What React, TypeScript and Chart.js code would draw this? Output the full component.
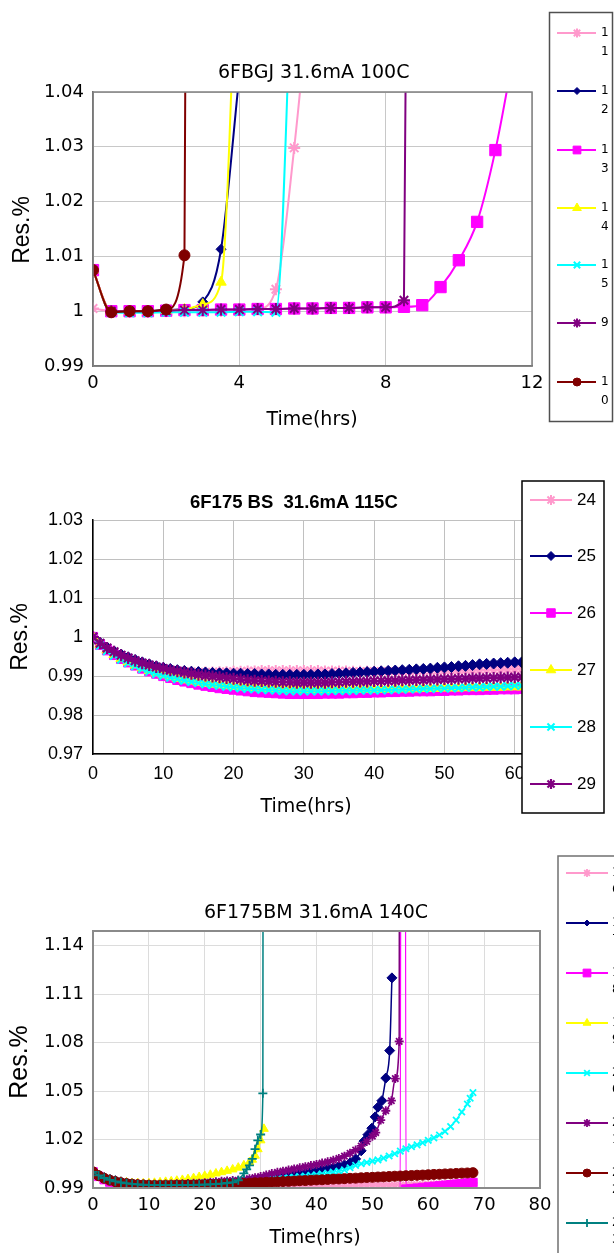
import React, { useEffect, useRef } from 'react';
import { Chart, registerables } from 'chart.js';
import { drawPoint } from 'chart.js/helpers';

Chart.register(...registerables);

// ================= Chart 1 : 6FBGJ 31.6mA 100C =================
const C1_TITLE = '6FBGJ 31.6mA 100C';
const C1_X_TICKS = [0, 4, 8, 12];
const C1_X_LABELS = ['0', '4', '8', '12'];
const C1_Y_TICKS = [0.99, 1, 1.01, 1.02, 1.03, 1.04];
const C1_Y_LABELS = ['0.99', '1', '1.01', '1.02', '1.03', '1.04'];
const C1_NAMES = ['11', '12', '13', '14', '15', '9', '10'];

const C1_S11_X = [0, 0.5, 1, 1.5, 2, 2.5, 3, 3.5, 4, 4.5, 5, 5.5, 6];
const C1_S11_Y = [1.0005, 1.0, 0.9999, 0.9999, 1.0, 1.0, 1.0001, 1.0001, 1.0002, 1.0004, 1.004, 1.0298, 1.064];
const C1_S12_X = [0, 0.5, 1, 1.5, 2, 2.5, 3, 3.5, 4];
const C1_S12_Y = [1.0075, 0.9998, 1.0, 1.0, 1.0002, 1.0004, 1.0017, 1.0113, 1.043];
const C1_S13_X = [0, 0.5, 1, 1.5, 2, 2.5, 3, 3.5, 4, 4.5, 5, 5.5, 6, 6.5, 7, 7.5, 8, 8.5, 9, 9.5, 10, 10.5, 11, 11.5];
const C1_S13_Y = [1.0075, 1.0, 1.0, 1.0, 1.0001, 1.0002, 1.0002, 1.0003, 1.0003, 1.0004, 1.0004, 1.0005, 1.0005, 1.0006, 1.0006, 1.0007, 1.0007, 1.0008, 1.0011, 1.0044, 1.0093, 1.0163, 1.0294, 1.047];
const C1_S14_X = [0, 0.5, 1, 1.5, 2, 2.5, 3, 3.5, 4];
const C1_S14_Y = [1.0075, 0.9999, 1.0, 1.0, 1.0001, 1.0003, 1.0012, 1.0053, 1.08];
const C1_S15_X = [0.5, 1, 1.5, 2, 2.5, 3, 3.5, 4, 4.5, 5, 5.5];
const C1_S15_Y = [0.9998, 0.9997, 0.9997, 0.9998, 0.9998, 0.9998, 0.9998, 0.9999, 0.9999, 0.9998, 1.075];
const C1_S9_X = [0.5, 1, 1.5, 2, 2.5, 3, 3.5, 4, 4.5, 5, 5.5, 6, 6.5, 7, 7.5, 8, 8.5, 9];
const C1_S9_Y = [1.0, 1.0, 1.0, 1.0001, 1.0002, 1.0002, 1.0003, 1.0003, 1.0004, 1.0004, 1.0005, 1.0005, 1.0006, 1.0006, 1.0007, 1.0007, 1.002, 1.5];
const C1_S10_X = [0, 0.5, 1, 1.5, 2, 2.5, 3];
const C1_S10_Y = [1.0075, 0.9998, 1.0, 1.0, 1.0003, 1.0102, 1.8];

// ================= Chart 2 : 6F175 BS 31.6mA 115C =================
const C2_TITLE = '6F175 BS  31.6mA 115C';
const C2_X_TICKS = [0, 10, 20, 30, 40, 50, 60, 70];
const C2_X_LABELS = ['0', '10', '20', '30', '40', '50', '60', '70'];
const C2_Y_TICKS = [0.97, 0.98, 0.99, 1, 1.01, 1.02, 1.03];
const C2_Y_LABELS = ['0.97', '0.98', '0.99', '1', '1.01', '1.02', '1.03'];
const C2_NAMES = ['24', '25', '26', '27', '28', '29'];
const C2_HOURS = [0, 1, 2, 3, 4, 5, 6, 7, 8, 9, 10, 11, 12, 13, 14, 15, 16, 17, 18, 19, 20, 21, 22, 23, 24, 25, 26, 27, 28, 29, 30, 31, 32, 33, 34, 35, 36, 37, 38, 39, 40, 41, 42, 43, 44, 45, 46, 47, 48, 49, 50, 51, 52, 53, 54, 55, 56, 57, 58, 59, 60, 61, 62];
const C2_S24_Y = [1.0000, 0.9983, 0.9970, 0.9960, 0.9951, 0.9944, 0.9938, 0.9932, 0.9927, 0.9923,
  0.9919, 0.9916, 0.9914, 0.9912, 0.9911, 0.9910, 0.9910, 0.9910, 0.9911, 0.9911,
  0.9912, 0.9912, 0.9913, 0.9913, 0.9914, 0.9914, 0.9914, 0.9914, 0.9914, 0.9914,
  0.9914, 0.9914, 0.9914, 0.9913, 0.9913, 0.9913, 0.9913, 0.9912, 0.9912, 0.9912,
  0.9912, 0.9912, 0.9912, 0.9912, 0.9912, 0.9912, 0.9913, 0.9913, 0.9913, 0.9913,
  0.9914, 0.9914, 0.9914, 0.9915, 0.9915, 0.9915, 0.9916, 0.9916, 0.9916, 0.9917,
  0.9917, 0.9917, 0.9918];
const C2_S25_Y = [1.0000, 0.9985, 0.9973, 0.9963, 0.9955, 0.9948, 0.9941, 0.9935, 0.9930, 0.9925,
  0.9921, 0.9918, 0.9915, 0.9913, 0.9911, 0.9910, 0.9909, 0.9908, 0.9907, 0.9907,
  0.9906, 0.9906, 0.9905, 0.9905, 0.9904, 0.9904, 0.9903, 0.9903, 0.9903, 0.9903,
  0.9903, 0.9903, 0.9904, 0.9904, 0.9905, 0.9906, 0.9907, 0.9908, 0.9909, 0.9910,
  0.9911, 0.9912, 0.9913, 0.9914, 0.9915, 0.9916, 0.9917, 0.9918, 0.9919, 0.9921,
  0.9922, 0.9923, 0.9925, 0.9926, 0.9928, 0.9930, 0.9931, 0.9932, 0.9933, 0.9934,
  0.9935, 0.9935, 0.9936];
const C2_S26_Y = [1.0000, 0.9980, 0.9966, 0.9954, 0.9944, 0.9935, 0.9927, 0.9919, 0.9912, 0.9906,
  0.9900, 0.9895, 0.9890, 0.9886, 0.9882, 0.9878, 0.9875, 0.9872, 0.9869, 0.9867,
  0.9865, 0.9863, 0.9861, 0.9859, 0.9858, 0.9857, 0.9856, 0.9855, 0.9854, 0.9854,
  0.9854, 0.9854, 0.9854, 0.9855, 0.9855, 0.9855, 0.9856, 0.9856, 0.9857, 0.9857,
  0.9858, 0.9858, 0.9859, 0.9859, 0.9860, 0.9860, 0.9861, 0.9861, 0.9861, 0.9862,
  0.9862, 0.9863, 0.9863, 0.9864, 0.9864, 0.9864, 0.9865, 0.9865, 0.9866, 0.9866,
  0.9866, 0.9867, 0.9867];
const C2_S27_Y = [1.0000, 0.9981, 0.9967, 0.9955, 0.9945, 0.9936, 0.9928, 0.9921, 0.9914, 0.9908,
  0.9903, 0.9898, 0.9894, 0.9890, 0.9887, 0.9884, 0.9881, 0.9879, 0.9877, 0.9875,
  0.9873, 0.9872, 0.9871, 0.9870, 0.9869, 0.9868, 0.9868, 0.9867, 0.9867, 0.9867,
  0.9866, 0.9866, 0.9866, 0.9866, 0.9866, 0.9866, 0.9866, 0.9866, 0.9866, 0.9866,
  0.9866, 0.9866, 0.9866, 0.9867, 0.9867, 0.9867, 0.9867, 0.9868, 0.9868, 0.9868,
  0.9869, 0.9869, 0.9869, 0.9870, 0.9870, 0.9870, 0.9871, 0.9871, 0.9871, 0.9872,
  0.9872, 0.9872, 0.9873];
const C2_S28_Y = [1.0000, 0.9978, 0.9964, 0.9952, 0.9942, 0.9933, 0.9925, 0.9918, 0.9911, 0.9905,
  0.9900, 0.9896, 0.9892, 0.9888, 0.9885, 0.9882, 0.9879, 0.9877, 0.9875, 0.9873,
  0.9871, 0.9869, 0.9867, 0.9866, 0.9865, 0.9864, 0.9863, 0.9862, 0.9861, 0.9861,
  0.9861, 0.9861, 0.9861, 0.9861, 0.9862, 0.9862, 0.9862, 0.9862, 0.9863, 0.9863,
  0.9863, 0.9864, 0.9864, 0.9865, 0.9865, 0.9866, 0.9866, 0.9867, 0.9867, 0.9868,
  0.9868, 0.9869, 0.9869, 0.9870, 0.9871, 0.9871, 0.9872, 0.9873, 0.9873, 0.9874,
  0.9875, 0.9875, 0.9876];
const C2_S29_Y = [1.0000, 0.9984, 0.9972, 0.9962, 0.9953, 0.9946, 0.9939, 0.9933, 0.9928, 0.9923,
  0.9919, 0.9915, 0.9912, 0.9909, 0.9906, 0.9903, 0.9901, 0.9899, 0.9897, 0.9895,
  0.9893, 0.9891, 0.9889, 0.9888, 0.9887, 0.9886, 0.9885, 0.9884, 0.9884, 0.9883,
  0.9883, 0.9883, 0.9883, 0.9883, 0.9884, 0.9884, 0.9885, 0.9885, 0.9886, 0.9886,
  0.9887, 0.9887, 0.9888, 0.9888, 0.9889, 0.9889, 0.9890, 0.9890, 0.9891, 0.9891,
  0.9892, 0.9892, 0.9893, 0.9893, 0.9894, 0.9894, 0.9895, 0.9895, 0.9896, 0.9896,
  0.9897, 0.9897, 0.9898];

// ================= Chart 3 : 6F175BM 31.6mA 140C =================
const C3_TITLE = '6F175BM 31.6mA 140C';
const C3_X_TICKS = [0, 10, 20, 30, 40, 50, 60, 70, 80];
const C3_X_LABELS = ['0', '10', '20', '30', '40', '50', '60', '70', '80'];
const C3_Y_TICKS = [0.99, 1.02, 1.05, 1.08, 1.11, 1.14];
const C3_Y_LABELS = ['0.99', '1.02', '1.05', '1.08', '1.11', '1.14'];
const C3_NAMES = ['16', '17', '18', '19', '20', '21', '22', '23'];
const C3_HOURS = [0, 1, 2, 3, 4, 5, 6, 7, 8, 9, 10, 11, 12, 13, 14, 15, 16, 17, 18, 19, 20, 21, 22, 23, 24, 25, 26, 27, 28, 29, 30, 31, 32, 33, 34, 35, 36, 37, 38, 39, 40, 41, 42, 43, 44, 45, 46, 47, 48, 49, 50, 51, 52, 53, 54, 55, 56, 57, 58, 59, 60, 61, 62, 63, 64, 65, 66, 67, 68];

const C3_PINK_X = C3_HOURS;
const C3_PINK_Y = [1.0000, 0.9978, 0.9963, 0.9952, 0.9943, 0.9936, 0.9930, 0.9926, 0.9922, 0.9919,
  0.9917, 0.9916, 0.9915, 0.9914, 0.9914, 0.9913, 0.9913, 0.9912, 0.9912, 0.9912,
  0.9912, 0.9912, 0.9912, 0.9912, 0.9912, 0.9912, 0.9912, 0.9912, 0.9912, 0.9912,
  0.9912, 0.9912, 0.9913, 0.9913, 0.9913, 0.9913, 0.9913, 0.9913, 0.9913, 0.9914,
  0.9914, 0.9914, 0.9914, 0.9914, 0.9915, 0.9915, 0.9915, 0.9915, 0.9916, 0.9916,
  0.9916, 0.9917, 0.9917, 0.9917, 0.9918, 0.9918, 0.9919, 0.9920, 0.9921, 0.9922,
  0.9923, 0.9924, 0.9925, 0.9926, 0.9927, 0.9928, 0.9929, 0.9930, 0.9931];

const C3_NAVY_X = [...C3_HOURS.slice(0, 48), 48, 48.5, 49.2, 49.9, 50.5, 51, 51.7, 52.4, 53.1, 53.5];
const C3_NAVY_Y = [1.0000, 0.9980, 0.9966, 0.9955, 0.9946, 0.9939, 0.9934, 0.9930, 0.9927, 0.9925,
  0.9923, 0.9922, 0.9921, 0.9921, 0.9921, 0.9921, 0.9922, 0.9922, 0.9923, 0.9924,
  0.9925, 0.9927, 0.9928, 0.9930, 0.9932, 0.9935, 0.9938, 0.9941, 0.9944, 0.9947,
  0.9951, 0.9955, 0.9960, 0.9965, 0.9970, 0.9975, 0.9980, 0.9986, 0.9992, 0.9998,
  1.0005, 1.0012, 1.0019, 1.0026, 1.0034, 1.0043, 1.0055, 1.0080,
  1.0130, 1.0190, 1.0230, 1.0270, 1.0340, 1.0400, 1.0440, 1.0580, 1.0750, 1.1200];

const C3_MAG_X = [...C3_HOURS.slice(0, 56), 55.5, ...C3_HOURS.slice(56)];
const C3_MAG_Y = [1.0000, 0.9972, 0.9952, 0.9937, 0.9925, 0.9915, 0.9907, 0.9901, 0.9896, 0.9893,
  0.9891, 0.9890, 0.9890, 0.9890, 0.9890, 0.9889, 0.9889, 0.9888, 0.9888, 0.9887,
  0.9886, 0.9885, 0.9884, 0.9883, 0.9882, 0.9881, 0.9880, 0.9879, 0.9878, 0.9877,
  0.9876, 0.9875, 0.9875, 0.9874, 0.9874, 0.9874, 0.9874, 0.9873, 0.9873, 0.9873,
  0.9873, 0.9873, 0.9873, 0.9873, 0.9874, 0.9874, 0.9874, 0.9874, 0.9875, 0.9875,
  0.9875, 0.9876, 0.9876, 0.9876, 0.9877, 0.9877,
  3.0,
  0.9893, 0.9896, 0.9899, 0.9903, 0.9906, 0.9910, 0.9913, 0.9917, 0.9920, 0.9924, 0.9927, 0.9931, 0.9934];

const C3_YEL_X = [...C3_HOURS.slice(0, 29), 28.5, 29, 29.5, 30, 30.6];
const C3_YEL_Y = [1.0000, 0.9978, 0.9963, 0.9952, 0.9944, 0.9938, 0.9934, 0.9931, 0.9930, 0.9929,
  0.9930, 0.9932, 0.9935, 0.9938, 0.9941, 0.9945, 0.9950, 0.9955, 0.9961, 0.9968,
  0.9975, 0.9982, 0.9990, 0.9998, 1.0006, 1.0015, 1.0026, 1.0040, 1.0060,
  1.0075, 1.0100, 1.0140, 1.0195, 1.0266];

const C3_CYAN_X = [...C3_HOURS.slice(0, 68), 67.5, 68];
const C3_CYAN_Y = [1.0000, 0.9979, 0.9964, 0.9953, 0.9944, 0.9937, 0.9932, 0.9928, 0.9925, 0.9924,
  0.9923, 0.9923, 0.9923, 0.9924, 0.9925, 0.9926, 0.9927, 0.9928, 0.9930, 0.9931,
  0.9933, 0.9935, 0.9937, 0.9939, 0.9941, 0.9943, 0.9945, 0.9947, 0.9949, 0.9951,
  0.9953, 0.9955, 0.9957, 0.9960, 0.9962, 0.9965, 0.9968, 0.9971, 0.9974, 0.9978,
  0.9982, 0.9987, 0.9992, 0.9998, 1.0004, 1.0012, 1.0025, 1.0040, 1.0050, 1.0058,
  1.0066, 1.0074, 1.0085, 1.0098, 1.0112, 1.0128, 1.0143, 1.0155, 1.0167, 1.0180,
  1.0195, 1.0210, 1.0228, 1.0250, 1.0280, 1.0320, 1.0370, 1.0420,
  1.0455, 1.0490];

const C3_PURP_X = [...C3_HOURS.slice(0, 51), 50.6, 51.5, 52.4, 53.4, 54.1, 54.8, 55.3];
const C3_PURP_Y = [1.0000, 0.9980, 0.9965, 0.9954, 0.9945, 0.9938, 0.9933, 0.9929, 0.9926, 0.9924,
  0.9923, 0.9923, 0.9923, 0.9924, 0.9925, 0.9926, 0.9927, 0.9928, 0.9929, 0.9930,
  0.9932, 0.9935, 0.9938, 0.9941, 0.9944, 0.9946, 0.9948, 0.9952, 0.9958, 0.9964,
  0.9971, 0.9980, 0.9990, 0.9997, 1.0004, 1.0011, 1.0018, 1.0025, 1.0032, 1.0039,
  1.0046, 1.0054, 1.0062, 1.0072, 1.0083, 1.0097, 1.0115, 1.0135, 1.0160, 1.0188,
  1.0220,
  1.0243, 1.0320, 1.0378, 1.0440, 1.0577, 1.0807, 3.0];

const C3_DRED_X = C3_HOURS;
const C3_DRED_Y = [1.0000, 0.9976, 0.9960, 0.9948, 0.9939, 0.9932, 0.9927, 0.9923, 0.9920, 0.9918,
  0.9917, 0.9916, 0.9916, 0.9916, 0.9916, 0.9917, 0.9917, 0.9918, 0.9918, 0.9919,
  0.9920, 0.9921, 0.9922, 0.9923, 0.9924, 0.9925, 0.9927, 0.9928, 0.9930, 0.9932,
  0.9933, 0.9935, 0.9936, 0.9938, 0.9940, 0.9941, 0.9943, 0.9945, 0.9946, 0.9948,
  0.9950, 0.9951, 0.9953, 0.9955, 0.9956, 0.9958, 0.9960, 0.9961, 0.9963, 0.9965,
  0.9966, 0.9968, 0.9969, 0.9971, 0.9973, 0.9974, 0.9976, 0.9977, 0.9979, 0.9980,
  0.9982, 0.9984, 0.9985, 0.9987, 0.9988, 0.9990, 0.9992, 0.9993, 0.9995];

const C3_TEAL_X = [...C3_HOURS.slice(0, 28), 27.5, 28, 28.5, 29, 29.5, 30, 30.4, 30.8];
const C3_TEAL_Y = [1.0000, 0.9978, 0.9962, 0.9950, 0.9941, 0.9934, 0.9929, 0.9925, 0.9922, 0.9920,
  0.9919, 0.9918, 0.9918, 0.9918, 0.9918, 0.9918, 0.9918, 0.9919, 0.9919, 0.9920,
  0.9921, 0.9922, 0.9924, 0.9927, 0.9931, 0.9935, 0.9948, 0.9990,
  1.0015, 1.0040, 1.0080, 1.0140, 1.0195, 1.0231, 1.0486, 3.0];

// ================= styles =================
const PINK = '#FF99CC', NAVY = '#000080', MAGENTA = '#FF00FF', YELLOW = '#FFFF00',
  CYAN = '#00FFFF', PURPLE = '#800080', DRED = '#800000', TEAL = '#008080';

const DJ = '"DejaVu Sans", sans-serif';
const LS = '"Liberation Sans", Arial, sans-serif';

function decor(spec: any) {
  return {
    id: 'decor',
    afterDraw(chart: any) {
      const ctx = chart.ctx;
      ctx.save();
      if (spec.frame) {
        const a = chart.chartArea;
        ctx.strokeStyle = spec.frame.color;
        ctx.lineWidth = spec.frame.width;
        ctx.strokeRect(a.left, a.top, a.right - a.left, a.bottom - a.top);
      }
      for (const t of spec.texts) {
        ctx.save();
        ctx.font = t.font;
        ctx.fillStyle = '#000';
        ctx.textBaseline = 'middle';
        ctx.textAlign = t.align || 'center';
        ctx.translate(t.x, t.y);
        if (t.rot) ctx.rotate(-Math.PI / 2);
        ctx.fillText(t.text, 0, 0);
        ctx.restore();
      }
      const L = spec.legend;
      if (L) {
        const [bx, by, bw, bh] = L.box;
        ctx.fillStyle = '#fff';
        ctx.fillRect(bx, by, bw, bh);
        ctx.strokeStyle = L.border;
        ctx.lineWidth = 1.5;
        ctx.strokeRect(bx, by, bw, bh);
        spec.series.forEach((se: any, i: number) => {
          const y = L.ys[i];
          ctx.strokeStyle = se.sty.color;
          ctx.lineWidth = L.lineWidth;
          ctx.beginPath();
          ctx.moveTo(L.x1, y);
          ctx.lineTo(L.x2, y);
          ctx.stroke();
          ctx.fillStyle = se.sty.color;
          ctx.strokeStyle = se.sty.color;
          ctx.lineWidth = se.sty.bw;
          drawPoint(ctx, { pointStyle: se.sty.style, radius: se.sty.lr, rotation: 0, borderWidth: se.sty.bw } as any, L.mx, y);
          ctx.fillStyle = '#000';
          ctx.font = L.font;
          ctx.textBaseline = 'middle';
          ctx.textAlign = 'left';
          const lines = L.split ? se.label.split('') : [se.label];
          lines.forEach((s: string, k: number) => ctx.fillText(s, L.lx, y + k * L.lineGap));
        });
      }
      ctx.restore();
    },
  };
}

function buildConfig(s: any) {
  const n = s.series.length;
  return {
    type: 'line',
    data: {
      datasets: s.series.map((se: any, i: number) => ({
        label: se.label,
        data: se.xs.map((x: number, k: number) => ({ x, y: se.ys[k] })),
        borderColor: se.sty.color,
        backgroundColor: se.sty.color,
        pointBackgroundColor: se.sty.color,
        pointBorderColor: se.sty.color,
        pointStyle: se.sty.style,
        pointRadius: se.sty.r,
        pointBorderWidth: se.sty.bw,
        borderWidth: s.lineWidth,
        cubicInterpolationMode: s.smooth ? 'monotone' : 'default',
        tension: 0,
        order: n - i,
        fill: false,
      })),
    },
    options: {
      responsive: false,
      animation: false,
      events: [],
      layout: { padding: { left: 0, top: s.area.top, right: s.width - s.area.right, bottom: 0 } },
      elements: { line: { capBezierPoints: false } },
      plugins: { legend: { display: false }, title: { display: false }, tooltip: { enabled: false } },
      scales: {
        x: {
          type: 'linear',
          min: s.x.min,
          max: s.x.max,
          afterBuildTicks: (sc: any) => { sc.ticks = s.x.ticks.map((v: number) => ({ value: v })); },
          afterFit: (sc: any) => { sc.height = s.height - s.area.bottom; },
          ticks: {
            callback: (_v: any, i: number) => s.x.labels[i],
            font: s.x.font,
            color: '#000',
            padding: s.x.padding,
            maxRotation: 0,
            autoSkip: false,
          },
          grid: { color: s.grid, lineWidth: 1, drawTicks: false },
          border: { color: s.axis.color, width: s.axis.width },
        },
        y: {
          type: 'linear',
          min: s.y.min,
          max: s.y.max,
          afterBuildTicks: (sc: any) => { sc.ticks = s.y.ticks.map((v: number) => ({ value: v })); },
          afterFit: (sc: any) => { sc.width = s.area.left; },
          ticks: {
            callback: (_v: any, i: number) => s.y.labels[i],
            font: s.y.font,
            color: '#000',
            padding: s.y.padding,
            autoSkip: false,
          },
          grid: { color: s.grid, lineWidth: 1, drawTicks: false },
          border: { color: s.axis.color, width: s.axis.width },
        },
      },
    },
    plugins: [decor(s)],
  };
}

const SPEC1 = {
  width: 614, height: 440, top: 0,
  area: { left: 93, top: 92, right: 532, bottom: 366 },
  x: { min: 0, max: 12, ticks: C1_X_TICKS, labels: C1_X_LABELS, font: { family: 'DejaVu Sans', size: 18 }, padding: 7 },
  y: { min: 0.99, max: 1.04, ticks: C1_Y_TICKS, labels: C1_Y_LABELS, font: { family: 'DejaVu Sans', size: 18 }, padding: 9 },
  smooth: true, lineWidth: 2,
  grid: '#c8c8c8', axis: { color: '#606060', width: 1.5 }, frame: { color: '#808080', width: 1.5 },
  series: [
    { label: C1_NAMES[0], xs: C1_S11_X, ys: C1_S11_Y, sty: { color: PINK, style: 'star', r: 6, lr: 4.5, bw: 2 } },
    { label: C1_NAMES[1], xs: C1_S12_X, ys: C1_S12_Y, sty: { color: NAVY, style: 'rectRot', r: 5, lr: 3.5, bw: 1 } },
    { label: C1_NAMES[2], xs: C1_S13_X, ys: C1_S13_Y, sty: { color: MAGENTA, style: 'rect', r: 8, lr: 5.5, bw: 1 } },
    { label: C1_NAMES[3], xs: C1_S14_X, ys: C1_S14_Y, sty: { color: YELLOW, style: 'triangle', r: 6, lr: 5, bw: 1 } },
    { label: C1_NAMES[4], xs: C1_S15_X, ys: C1_S15_Y, sty: { color: CYAN, style: 'crossRot', r: 6, lr: 4.5, bw: 2 } },
    { label: C1_NAMES[5], xs: C1_S9_X, ys: C1_S9_Y, sty: { color: PURPLE, style: 'star', r: 6, lr: 4.5, bw: 2 } },
    { label: C1_NAMES[6], xs: C1_S10_X, ys: C1_S10_Y, sty: { color: DRED, style: 'circle', r: 5.5, lr: 4, bw: 1 } },
  ],
  texts: [
    { text: C1_TITLE, x: 218, y: 73, font: `19px ${DJ}`, align: 'left' },
    { text: 'Time(hrs)', x: 312, y: 420, font: `19px ${DJ}` },
    { text: 'Res.%', x: 23, y: 230, font: `23px ${LS}`, rot: true },
  ],
  legend: {
    box: [549.5, 12.5, 63, 409], border: '#505050', lineWidth: 2,
    x1: 557, x2: 596, mx: 577, lx: 601, font: `12px ${DJ}`, split: true, lineGap: 19,
    ys: [33, 91, 150, 208, 265, 323, 382],
  },
};

const SPEC2 = {
  width: 614, height: 380, top: 440,
  area: { left: 93, top: 80, right: 585, bottom: 314 },
  x: { min: 0, max: 70, ticks: C2_X_TICKS, labels: C2_X_LABELS, font: { family: 'Liberation Sans', size: 18 }, padding: 9 },
  y: { min: 0.97, max: 1.03, ticks: C2_Y_TICKS, labels: C2_Y_LABELS, font: { family: 'Liberation Sans', size: 18 }, padding: 10 },
  smooth: false, lineWidth: 2,
  grid: '#c0c0c0', axis: { color: '#000000', width: 1.5 }, frame: null,
  series: [
    { label: C2_NAMES[0], xs: C2_HOURS, ys: C2_S24_Y, sty: { color: PINK, style: 'star', r: 5.5, lr: 5, bw: 2 } },
    { label: C2_NAMES[1], xs: C2_HOURS, ys: C2_S25_Y, sty: { color: NAVY, style: 'rectRot', r: 5.5, lr: 4.5, bw: 1 } },
    { label: C2_NAMES[2], xs: C2_HOURS, ys: C2_S26_Y, sty: { color: MAGENTA, style: 'rect', r: 6.5, lr: 6, bw: 1 } },
    { label: C2_NAMES[3], xs: C2_HOURS, ys: C2_S27_Y, sty: { color: YELLOW, style: 'triangle', r: 6, lr: 5.5, bw: 1 } },
    { label: C2_NAMES[4], xs: C2_HOURS, ys: C2_S28_Y, sty: { color: CYAN, style: 'crossRot', r: 5.5, lr: 5, bw: 2 } },
    { label: C2_NAMES[5], xs: C2_HOURS, ys: C2_S29_Y, sty: { color: PURPLE, style: 'star', r: 6, lr: 5, bw: 2.2 } },
  ],
  texts: [
    { text: C2_TITLE, x: 190, y: 63, font: `bold 18.5px ${LS}`, align: 'left' },
    { text: 'Time(hrs)', x: 306, y: 367, font: `19px ${DJ}` },
    { text: 'Res.%', x: 21, y: 197, font: `23px ${LS}`, rot: true },
  ],
  legend: {
    box: [522, 41, 82, 332], border: '#000000', lineWidth: 2,
    x1: 530, x2: 572, mx: 551, lx: 577, font: `17px ${LS}`, split: false, lineGap: 0,
    ys: [60, 116, 173, 230, 287, 344],
  },
};

const SPEC3 = {
  width: 614, height: 433, top: 820,
  area: { left: 93, top: 111, right: 540, bottom: 368 },
  x: { min: 0, max: 80, ticks: C3_X_TICKS, labels: C3_X_LABELS, font: { family: 'DejaVu Sans', size: 18 }, padding: 7 },
  y: { min: 0.99, max: 1.149, ticks: C3_Y_TICKS, labels: C3_Y_LABELS, font: { family: 'DejaVu Sans', size: 18 }, padding: 9 },
  smooth: true, lineWidth: 1.5,
  grid: '#dcdcdc', axis: { color: '#8a8a8a', width: 2 }, frame: { color: '#8a8a8a', width: 2 },
  series: [
    { label: C3_NAMES[0], xs: C3_PINK_X, ys: C3_PINK_Y, sty: { color: PINK, style: 'star', r: 4.5, lr: 4, bw: 1.8 } },
    { label: C3_NAMES[1], xs: C3_NAVY_X, ys: C3_NAVY_Y, sty: { color: NAVY, style: 'rectRot', r: 5, lr: 3, bw: 1 } },
    { label: C3_NAMES[2], xs: C3_MAG_X, ys: C3_MAG_Y, sty: { color: MAGENTA, style: 'rect', r: 6, lr: 5.5, bw: 1 } },
    { label: C3_NAMES[3], xs: C3_YEL_X, ys: C3_YEL_Y, sty: { color: YELLOW, style: 'triangle', r: 5, lr: 4.5, bw: 1 } },
    { label: C3_NAMES[4], xs: C3_CYAN_X, ys: C3_CYAN_Y, sty: { color: CYAN, style: 'crossRot', r: 4.5, lr: 4, bw: 1.8 } },
    { label: C3_NAMES[5], xs: C3_PURP_X, ys: C3_PURP_Y, sty: { color: PURPLE, style: 'star', r: 4.5, lr: 4, bw: 1.8 } },
    { label: C3_NAMES[6], xs: C3_DRED_X, ys: C3_DRED_Y, sty: { color: DRED, style: 'circle', r: 5, lr: 4, bw: 1 } },
    { label: C3_NAMES[7], xs: C3_TEAL_X, ys: C3_TEAL_Y, sty: { color: TEAL, style: 'cross', r: 4.5, lr: 4, bw: 1.8 } },
  ],
  texts: [
    { text: C3_TITLE, x: 204, y: 93, font: `19px ${DJ}`, align: 'left' },
    { text: 'Time(hrs)', x: 315, y: 418, font: `19px ${DJ}` },
    { text: 'Res.%', x: 20, y: 242, font: `25px ${LS}`, rot: true },
  ],
  legend: {
    box: [558, 36, 120, 500], border: '#707070', lineWidth: 2,
    x1: 566, x2: 608, mx: 587, lx: 612, font: `12px ${DJ}`, split: true, lineGap: 17,
    ys: [53, 103, 153, 203, 253, 303, 353, 403],
  },
};

function ChartCanvas({ spec }: { spec: any }) {
  const ref = useRef<HTMLCanvasElement | null>(null);
  useEffect(() => {
    if (!ref.current) return;
    const chart = new Chart(ref.current, buildConfig(spec) as any);
    return () => chart.destroy();
  }, [spec]);
  return (
    <canvas
      ref={ref}
      width={spec.width}
      height={spec.height}
      style={{ position: 'absolute', left: 0, top: spec.top, width: spec.width, height: spec.height, display: 'block' }}
    />
  );
}

export default function App() {
  useEffect(() => {
    document.body.style.margin = '0';
    document.body.style.background = '#fff';
  }, []);
  return (
    <div style={{ position: 'absolute', left: 0, top: 0, width: 614, height: 1253, overflow: 'hidden', background: '#fff' }}>
      <ChartCanvas spec={SPEC1} />
      <ChartCanvas spec={SPEC2} />
      <ChartCanvas spec={SPEC3} />
    </div>
  );
}
